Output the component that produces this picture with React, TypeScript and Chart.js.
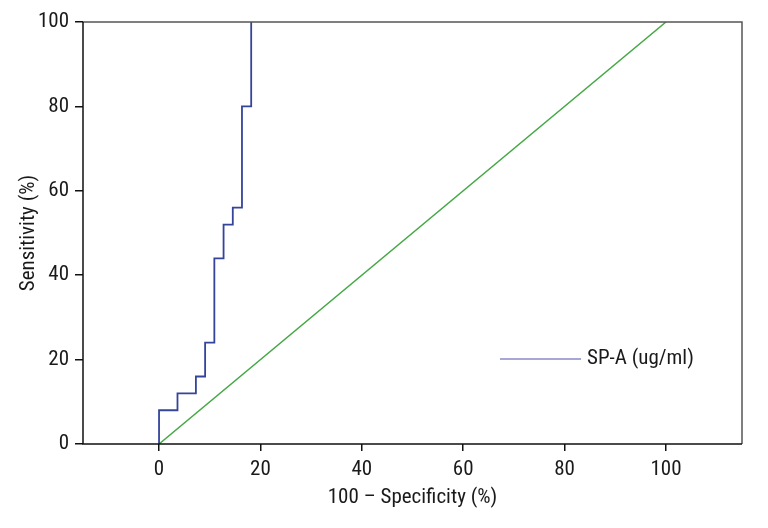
import React, { useEffect, useRef } from "react";
import { Chart, registerables } from "chart.js";

Chart.register(...registerables);

// ROC points (100 - specificity, sensitivity)
const rocX = [0, 0, 3.64, 7.27, 9.09, 10.91, 12.73, 14.55, 16.36, 18.18];
const rocY = [0, 8, 12, 16, 24, 44, 52, 56, 80, 100];
const refX = [0, 100];
const refY = [0, 100];
const tickValues = [0, 20, 40, 60, 80, 100];
const seriesLabel = "SP-A (ug/ml)";
const xTitle = "100 \u2013 Specificity (%)";
const yTitle = "Sensitivity (%)";

const FONT = "'Roboto Condensed', 'Liberation Sans', sans-serif";
const FSIZE = 21;
const CURVE = "#34449a";
const DIAG = "#45a845";

const framePlugin = {
  id: "frame",
  afterDatasetsDraw(chart: any) {
    const { ctx, chartArea: a } = chart;
    ctx.save();
    ctx.strokeStyle = "#555";
    ctx.lineWidth = 1.5;
    ctx.beginPath();
    ctx.moveTo(a.left, a.top);
    ctx.lineTo(a.right, a.top);
    ctx.lineTo(a.right, a.bottom);
    ctx.stroke();
    ctx.strokeStyle = "#111";
    ctx.beginPath();
    ctx.moveTo(a.left, a.top);
    ctx.lineTo(a.left, a.bottom);
    ctx.lineTo(a.right, a.bottom);
    ctx.stroke();
    // legend
    const lx = a.left + 417;
    const ly = a.top + 337;
    ctx.strokeStyle = "#8a8ac8";
    ctx.lineWidth = 1.5;
    ctx.beginPath();
    ctx.moveTo(lx, ly);
    ctx.lineTo(lx + 81, ly);
    ctx.stroke();
    ctx.fillStyle = "#1a1a1a";
    ctx.font = FSIZE + "px " + FONT;
    ctx.textBaseline = "middle";
    ctx.textAlign = "left";
    ctx.fillText(seriesLabel, lx + 87, ly);
    ctx.restore();
  },
};

export default function App() {
  const ref = useRef<HTMLCanvasElement>(null);
  useEffect(() => {
    const chart = new Chart(ref.current!, {
      type: "scatter",
      data: {
        datasets: [
          {
            label: seriesLabel,
            data: rocX.map((x, i) => ({ x, y: rocY[i] })),
            showLine: true,
            stepped: "before",
            borderColor: CURVE,
            borderWidth: 1.8,
            pointRadius: 0,
            fill: false,
          },
          {
            label: "Reference",
            data: refX.map((x, i) => ({ x, y: refY[i] })),
            showLine: true,
            borderColor: DIAG,
            borderWidth: 1.5,
            pointRadius: 0,
            fill: false,
          },
        ],
      },
      options: {
        animation: false,
        responsive: true,
        maintainAspectRatio: false,
        layout: { padding: { top: 22, right: 26, left: 0, bottom: 0 } },
        plugins: { legend: { display: false }, tooltip: { enabled: false } },
        scales: {
          x: {
            type: "linear",
            min: -15,
            max: 115,
            afterBuildTicks: (axis: any) => {
              axis.ticks = tickValues.map((v) => ({ value: v }));
            },
            afterFit: (axis: any) => {
              axis.height = 84;
            },
            grid: {
              drawOnChartArea: false,
              drawTicks: true,
              tickLength: 7,
              color: "#111",
              lineWidth: 1.5,
            },
            border: { display: false },
            ticks: {
              color: "#1a1a1a",
              font: { family: FONT, size: FSIZE },
              padding: 6,
              maxRotation: 0,
            },
            title: {
              display: true,
              text: xTitle,
              color: "#1a1a1a",
              font: { family: FONT, size: FSIZE },
              padding: { top: 4, bottom: 18 },
            },
          },
          y: {
            type: "linear",
            min: 0,
            max: 100,
            afterBuildTicks: (axis: any) => {
              axis.ticks = tickValues.map((v) => ({ value: v }));
            },
            afterFit: (axis: any) => {
              axis.width = 83;
            },
            grid: {
              drawOnChartArea: false,
              drawTicks: true,
              tickLength: 8,
              color: "#111",
              lineWidth: 1.5,
            },
            border: { display: false },
            ticks: {
              color: "#1a1a1a",
              font: { family: FONT, size: FSIZE },
              padding: 6,
            },
            title: {
              display: true,
              text: yTitle,
              color: "#1a1a1a",
              font: { family: FONT, size: FSIZE },
              padding: { top: 16, bottom: 0 },
            },
          },
        },
      },
      plugins: [framePlugin],
    });
    return () => chart.destroy();
  }, []);
  return (
    <div style={{ position: "fixed", left: 0, top: 0, width: 768, height: 528, background: "#fff" }}>
      <canvas ref={ref} />
    </div>
  );
}
